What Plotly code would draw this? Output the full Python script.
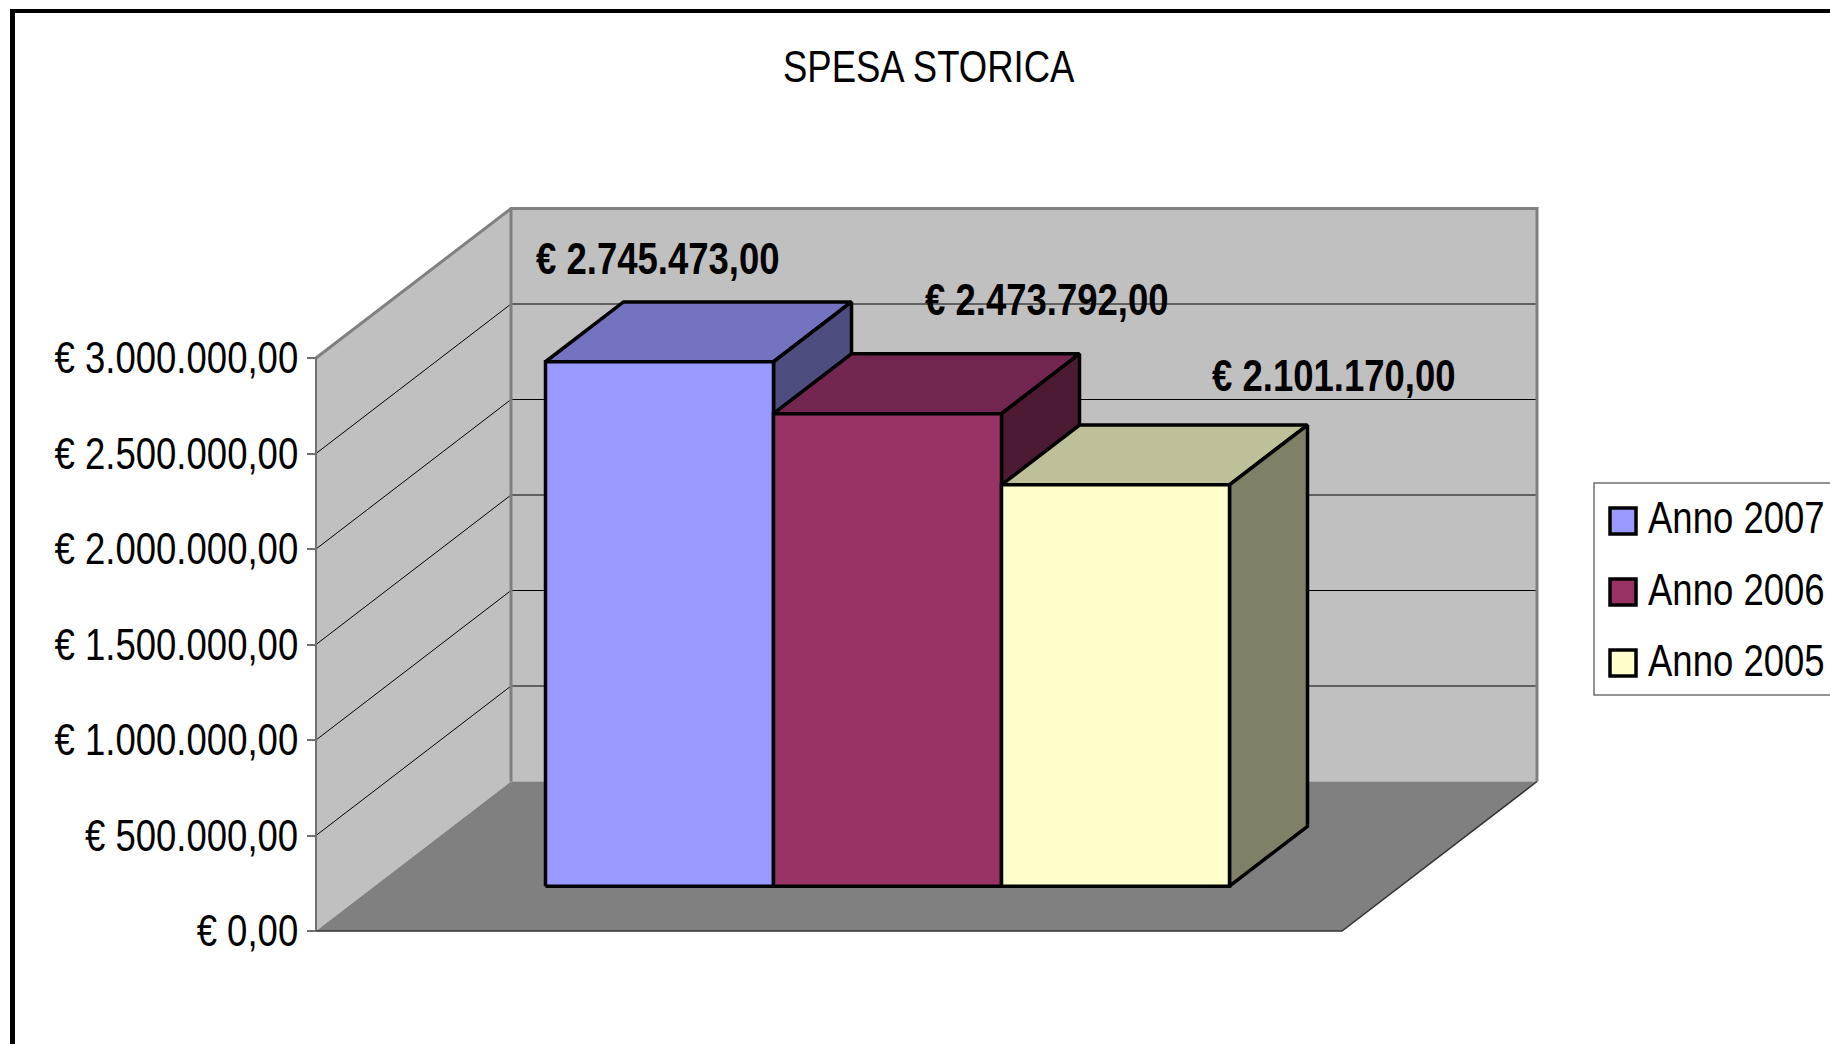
import plotly.graph_objects as go

# ---- data ----
series_names = ["Anno 2007", "Anno 2006", "Anno 2005"]
series_values = [2745473.00, 2473792.00, 2101170.00]
tick_values = [0, 500000, 1000000, 1500000, 2000000, 2500000, 3000000]
title_text = "SPESA STORICA"
front_colors = ["#9999FF", "#993366", "#FFFFCC"]
top_colors = ["#7373BF", "#732650", "#BFBF99"]
side_colors = ["#4D4D80", "#4D1A33", "#808066"]

# ---- layout constants (pixels of the 1830x1044 page) ----
W, H = 1830, 1044
X0_PX, Y0_PX = 316.0, 931.0          # front-left corner of the floor
PX_PER_UNIT = 1026.0 / 4.5           # 4.5 category units span the floor
PX_PER_VAL = 573.0 / 3000000.0
DEPTH_X = 195.0 / PX_PER_UNIT        # oblique shift of the full depth
DEPTH_V = 149.5 / PX_PER_VAL
VMAX = 3000000.0
XMAX = 4.5
FONT = "Liberation Sans, Arial, sans-serif"
FONT_SIZE = 44
GRAY = "#808080"


def proj(x, v, d):
    return x + d * DEPTH_X, v + d * DEPTH_V


def poly(points, fill, line_color=None, line_width=0, close=True):
    pts = [proj(*p) for p in points]
    if close:
        pts.append(pts[0])
    return go.Scatter(
        x=[p[0] for p in pts], y=[p[1] for p in pts], mode="lines",
        fill="toself" if fill else None, fillcolor=fill,
        line=dict(color=line_color or "rgba(0,0,0,0)", width=line_width),
        hoverinfo="skip", showlegend=False,
    )


def seg(a, b, color, width):
    return poly([a, b], None, color, width, close=False)


def px(x):
    return x / W


def py(y):
    return 1 - y / H


def fmt_eur(v):
    s = f"{v:,.2f}".replace(",", "#").replace(".", ",").replace("#", ".")
    return "€ " + s


fig = go.Figure()

# walls and floor
fig.add_trace(poly([(0, 0, 0), (0, 0, 1), (0, VMAX, 1), (0, VMAX, 0)], "#C0C0C0"))
fig.add_trace(poly([(0, 0, 1), (XMAX, 0, 1), (XMAX, VMAX, 1), (0, VMAX, 1)], "#C0C0C0"))
fig.add_trace(poly([(0, 0, 0), (XMAX, 0, 0), (XMAX, 0, 1), (0, 0, 1)], GRAY))

# gridlines on both walls
for v in tick_values[1:-1]:
    fig.add_trace(poly([(0, v, 0), (0, v, 1), (XMAX, v, 1)], None, "#000000", 1, close=False))

# wall edges
fig.add_trace(seg((0, 0, 0), (0, VMAX, 0), "#707070", 2))
fig.add_trace(poly([(0, VMAX, 0), (0, VMAX, 1), (XMAX, VMAX, 1), (XMAX, 0, 1)], None, GRAY, 3, close=False))
fig.add_trace(seg((0, 0, 1), (0, VMAX, 1), GRAY, 3))
fig.add_trace(poly([(0, 0, 0), (XMAX, 0, 0), (XMAX, 0, 1)], None, "#333333", 1.5, close=False))

# bars
D0, D1 = 0.3, 0.7
BAR_LINE = 3.5
for i, (name, val) in enumerate(zip(series_names, series_values)):
    x0, x1 = 0.75 + i, 1.75 + i
    fig.add_trace(poly([(x0, val, D0), (x1, val, D0), (x1, val, D1), (x0, val, D1)],
                       top_colors[i], "black", BAR_LINE))
    fig.add_trace(poly([(x1, 0, D0), (x1, 0, D1), (x1, val, D1), (x1, val, D0)],
                       side_colors[i], "black", BAR_LINE))
    t = poly([(x0, 0, D0), (x1, 0, D0), (x1, val, D0), (x0, val, D0)],
             front_colors[i], "black", BAR_LINE)
    t.name = name
    fig.add_trace(t)

# data labels (hand-placed in the original)
label_px = [(658, 258), (1047, 299), (1334, 376)]
annotations = [
    dict(x=px(lx), y=py(ly), xref="paper", yref="paper", text=f"<b>{fmt_eur(v)}</b>",
         showarrow=False, font=dict(family=FONT, size=FONT_SIZE, color="black"),
         xanchor="center", yanchor="middle")
    for (lx, ly), v in zip(label_px, series_values)
]
annotations.append(dict(x=px(929), y=py(67), xref="paper", yref="paper", text=title_text,
                        showarrow=False, font=dict(family=FONT, size=FONT_SIZE, color="black"),
                        xanchor="center", yanchor="middle"))

# legend, clipped by the right edge as in the original
legend_y = [517, 589, 660]
swatch_y = [521, 592, 663]
shapes = [
    dict(type="rect", xref="paper", yref="paper", x0=px(1594), x1=px(1850), y0=py(483), y1=py(695),
         line=dict(color="#707070", width=1.5), fillcolor="white", layer="above"),
    dict(type="line", xref="paper", yref="paper", x0=px(12.5), x1=px(12.5), y0=py(9), y1=-0.01,
         line=dict(color="black", width=5)),
    dict(type="line", xref="paper", yref="paper", x0=px(10), x1=1.01, y0=py(11), y1=py(11),
         line=dict(color="black", width=4)),
]
for name, ly, sy, col in zip(series_names, legend_y, swatch_y, front_colors):
    shapes.append(dict(type="rect", xref="paper", yref="paper", x0=px(1610), x1=px(1636),
                       y0=py(sy + 13), y1=py(sy - 13), line=dict(color="black", width=3.5),
                       fillcolor=col, layer="above"))
    annotations.append(dict(x=px(1646), y=py(ly), xref="paper", yref="paper", text=name,
                            showarrow=False, font=dict(family=FONT, size=FONT_SIZE, color="black"),
                            xanchor="left", yanchor="middle"))

fig.update_layout(
    width=W, height=H, margin=dict(l=0, r=0, t=0, b=0),
    paper_bgcolor="white", plot_bgcolor="white", showlegend=False,
    shapes=shapes, annotations=annotations,
    xaxis=dict(range=[-X0_PX / PX_PER_UNIT, (W - X0_PX) / PX_PER_UNIT], visible=False, fixedrange=True),
    yaxis=dict(
        range=[(Y0_PX - H) / PX_PER_VAL, Y0_PX / PX_PER_VAL],
        anchor="free", position=X0_PX / W, showgrid=False, zeroline=False, showline=False,
        tickmode="array", tickvals=tick_values, ticktext=[fmt_eur(v) for v in tick_values],
        ticks="outside", ticklen=9, tickcolor="#707070", tickwidth=1.5,
        tickfont=dict(family=FONT, size=FONT_SIZE, color="black"), fixedrange=True,
    ),
)

# The original uses a condensed face that is not installed: narrow the real text horizontally.
condense = """
document.body.style.margin='0';document.body.style.overflow='hidden';
(function(){
  var S=0.83;
  function squeeze(t,mode){
    if(t.dataset.sq)return; t.dataset.sq='1';
    var b=t.getBBox();
    var ax=mode==='right'?b.x+b.width:(mode==='left'?b.x:b.x+b.width/2);
    var old=t.getAttribute('transform')||'';
    t.setAttribute('transform',old+' translate('+ax+' 0) scale('+S+' 1) translate('+(-ax)+' 0)');
  }
  function run(){
    document.querySelectorAll('.ytick text').forEach(function(t){squeeze(t,'right');});
    document.querySelectorAll('.annotation-text').forEach(function(t){
      squeeze(t,t.textContent.indexOf('Anno')===0?'left':'middle');
    });
  }
  run(); setTimeout(run,50);
})();
"""
fig.write_html("out.html", config={"displayModeBar": False}, post_script=condense)
